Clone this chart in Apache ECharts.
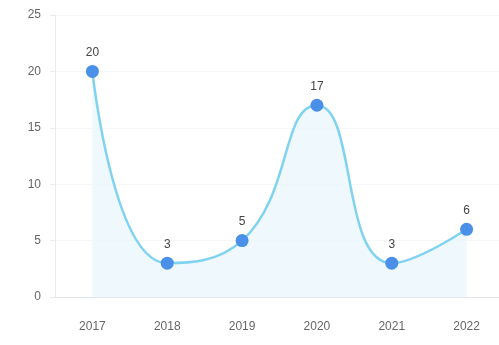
<!DOCTYPE html>
<html><head><meta charset="utf-8">
<script src="https://cdn.jsdelivr.net/npm/echarts@6/dist/echarts.min.js"></script>
<style>html,body{margin:0;padding:0;background:#fff;overflow:hidden}#c{width:504px;height:345px}</style>
</head><body><div id="c"></div>
<script>
const categories = ['2017','2018','2019','2020','2021','2022'];
const values = [20, 3, 5, 17, 3, 6];
const yTicks = [0, 5, 10, 15, 20, 25];

const chart = echarts.init(document.getElementById('c'), null, {renderer:'canvas'});
chart.setOption({
  animation:false,
  backgroundColor:'#fff',
  grid:{left:55, top:15, right:0, bottom:48},
  xAxis:{type:'category', data:categories, boundaryGap:true,
    axisLine:{lineStyle:{color:'#e3e6ea', width:1}},
    axisTick:{alignWithLabel:true, length:5, lineStyle:{color:'#e3e6ea'}},
    axisLabel:{color:'#666', fontSize:12, margin:24, fontFamily:'Liberation Sans, Arial'}},
  yAxis:{type:'value', min:0, max:25, interval:5,
    axisLine:{show:true, lineStyle:{color:'#e8eaee'}},
    axisTick:{show:true, length:5, lineStyle:{color:'#e8eaee'}},
    splitLine:{show:true, lineStyle:{color:'#f6f7f9'}},
    axisLabel:{color:'#666', fontSize:12, margin:14, fontFamily:'Liberation Sans, Arial',
      formatter:v=>yTicks.includes(v)?String(v):''}},
  series:[{type:'line', data:values, smooth:0.5,
    symbol:'circle', symbolSize:13,
    itemStyle:{color:'#4a90e8'},
    lineStyle:{color:'#80d3f0', width:2.5},
    areaStyle:{color:'#e8f6fc'},
    label:{show:true, position:'top', distance:6, color:'#444', fontSize:12, fontFamily:'Liberation Sans, Arial'}
  }]
});
</script></body></html>
